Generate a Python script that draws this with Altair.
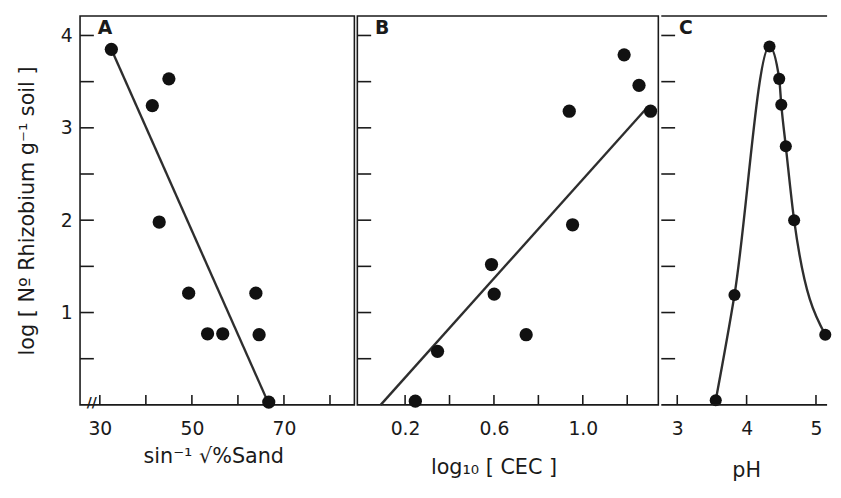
import altair as alt
import pandas as pd

# ---------------- data ----------------
Y_TITLE = "log [ Nº Rhizobium g⁻¹ soil ]"

# Panel A: arcsine sqrt % sand
sand_x = [32.5, 45.0, 41.4, 42.9, 49.3, 53.4, 56.7, 63.9, 64.6, 66.7]
sand_y = [3.85, 3.53, 3.24, 1.98, 1.21, 0.77, 0.77, 1.21, 0.76, 0.03]
sand_fit_x = [32.5, 66.8]
sand_fit_y = [3.85, 0.0]
sand_ticks = [30, 40, 50, 60, 70, 80]
sand_labels = [30, 50, 70]

# Panel B: log10 CEC
cec_x = [1.186, 1.253, 1.305, 0.939, 0.954, 0.589, 0.601, 0.745, 0.346, 0.246]
cec_y = [3.79, 3.46, 3.18, 3.18, 1.95, 1.52, 1.20, 0.76, 0.58, 0.04]
cec_fit_x = [0.09, 1.29]
cec_fit_y = [0.0, 3.22]
cec_ticks = [0.2, 0.4, 0.6, 0.8, 1.0, 1.2]
cec_labels = [0.2, 0.6, 1.0]

# Panel C: pH
ph_x = [3.555, 3.825, 4.33, 4.47, 4.50, 4.565, 4.685, 5.134]
ph_y = [0.05, 1.19, 3.88, 3.53, 3.25, 2.80, 2.00, 0.76]
ph_ticks = [3, 4, 5]
ph_labels = [3, 4, 5]

y_ticks = [0.5, 1.0, 1.5, 2.0, 2.5, 3.0, 3.5, 4.0]
y_labels = [1, 2, 3, 4]

# ---------------- layout ----------------
H = 394
WA, WB, WC = 278, 305, 168
FONT = "DejaVu Sans"
INK = "#1a1a1a"
LINE = "#2e2e2e"

Y_TOP = 4.21
y_scale = alt.Scale(domain=[0, Y_TOP], nice=False, zero=False)


def panel(px, py, xdom, xticks, xlabels, xfmt, xtitle, width, letter,
          title_x, title_y, fit=None, curve=False, yaxis=False, psize=180,
          with_break=False, hide_right=False):
    xs = alt.Scale(domain=xdom, nice=False, zero=False)
    x_axis = alt.Axis(values=xlabels, format=xfmt, ticks=False, domain=False,
                      grid=False, labelFontSize=19, labelPadding=24,
                      labelBaseline="middle", labelFlush=False,
                      labelOverlap=False, labelColor=INK, labelFont=FONT,
                      title=xtitle, titleFont=FONT,
                      titleFontSize=21, titleFontWeight="normal",
                      titleColor=INK, titleX=title_x, titleY=title_y,
                      titleBaseline="middle")
    if yaxis:
        y_axis = alt.Axis(values=y_labels, format="d", ticks=False,
                          domain=False, grid=False, labelFontSize=19,
                          labelPadding=8, labelColor=INK, labelFont=FONT,
                          title=Y_TITLE, titleFont=FONT,
                          titleFontSize=21, titleFontWeight="normal",
                          titleColor=INK, titlePadding=23)
    else:
        y_axis = None

    def X(field="x"):
        return alt.X(f"{field}:Q", scale=xs, axis=x_axis, title=xtitle)

    def Y(field="y"):
        if yaxis:
            return alt.Y(f"{field}:Q", scale=y_scale, axis=y_axis,
                         title=Y_TITLE)
        return alt.Y(f"{field}:Q", scale=y_scale, axis=None)

    pts = pd.DataFrame({"x": px, "y": py})
    layers = []

    if fit is not None:
        fdf = pd.DataFrame({"x": fit[0], "y": fit[1]})
        layers.append(
            alt.Chart(fdf).mark_line(color=LINE, strokeWidth=2.4).encode(
                x=X(), y=Y(),
            )
        )
    if curve:
        layers.append(
            alt.Chart(pts).mark_line(color=LINE, strokeWidth=2.4,
                                     interpolate="monotone").encode(
                x=X(), y=Y(), order="x:Q",
            )
        )

    layers.append(
        alt.Chart(pts).mark_circle(size=psize, color="#111111",
                                   opacity=1).encode(x=X(), y=Y())
    )

    # inward y ticks
    ytd = pd.DataFrame({"y": y_ticks})
    layers.append(
        alt.Chart(ytd).mark_rule(color=INK, strokeWidth=1.6).encode(
            y=Y(), x=alt.value(0), x2=alt.value(14),
        )
    )
    # inward x ticks
    xtd = pd.DataFrame({"x": xticks})
    layers.append(
        alt.Chart(xtd).mark_rule(color=INK, strokeWidth=1.6).encode(
            x=X(), y=alt.value(H), y2=alt.value(H - 10),
        )
    )
    # panel letter
    ld = pd.DataFrame({"y": [4.0], "t": [letter]})
    layers.append(
        alt.Chart(ld).mark_text(align="left", baseline="alphabetic",
                                fontSize=19, fontWeight="bold", color=INK,
                                font=FONT, dy=-1).encode(
            y=Y(), x=alt.value(18), text="t:N",
        )
    )
    if with_break:
        bd = pd.DataFrame({"t": ["//"]})
        layers.append(
            alt.Chart(bd).mark_text(align="center", baseline="middle",
                                    fontSize=14, fontWeight="bold",
                                    color=INK, font=FONT).encode(
                x=alt.value(12), y=alt.value(H - 2), text="t:N",
            )
        )
    if hide_right:
        fr = pd.DataFrame({"y": [0, Y_TOP]})
        layers.append(
            alt.Chart(fr).mark_rule(color=INK, strokeWidth=1.6).encode(
                y=Y(), x=alt.value(0), x2=alt.value(width),
            )
        )

    ch = alt.layer(*layers).properties(width=width, height=H)
    if hide_right:
        ch = ch.properties(view=alt.ViewBackground(stroke="transparent"))
    return ch


pa = panel(sand_x, sand_y, [25.7, 85.3], sand_ticks, sand_labels, "d",
           "sin⁻¹ √%Sand", WA, "A", 135, 52,
           fit=(sand_fit_x, sand_fit_y), yaxis=True, with_break=True)
pb = panel(cec_x, cec_y, [-0.015, 1.34], cec_ticks, cec_labels, ".1f",
           "log₁₀ [ CEC ]", WB, "B", 138, 64,
           fit=(cec_fit_x, cec_fit_y))
pc = panel(ph_x, ph_y, [2.77, 5.16], ph_ticks, ph_labels, "d",
           "pH", WC, "C", 86, 67, curve=True, psize=150, hide_right=True)

chart = alt.hconcat(pa, pb, pc, spacing=0).properties(
    padding={"left": 8, "top": 3, "right": 0, "bottom": 0},
    background="white",
).configure(
    font=FONT,
    view=alt.ViewConfig(stroke=INK, strokeWidth=1.6),
)

chart.save("out.html", embed_options={"renderer": "svg", "actions": False})
